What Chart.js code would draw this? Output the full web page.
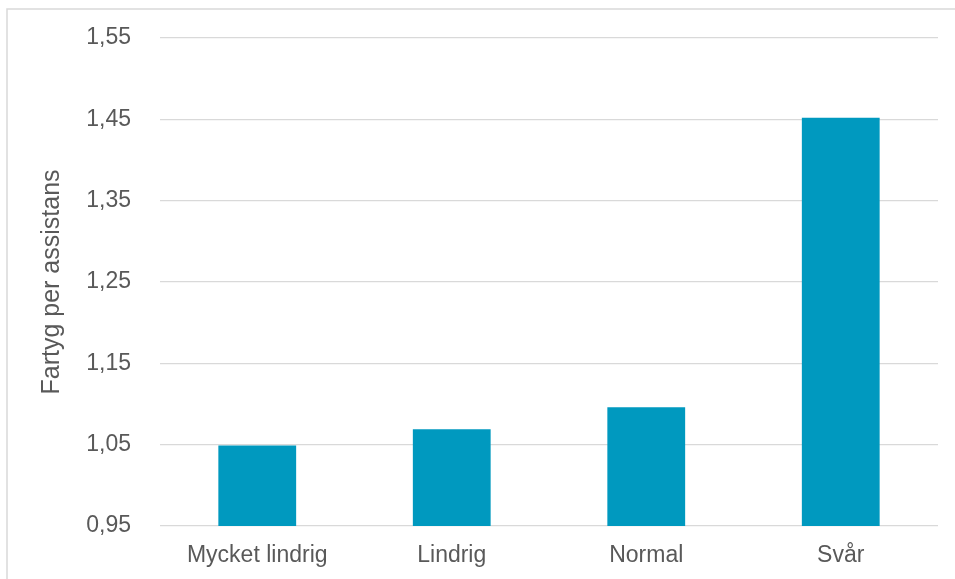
<!DOCTYPE html>
<html>
<head>
<meta charset="utf-8">
<script src="https://cdn.jsdelivr.net/npm/chart.js@4/dist/chart.umd.min.js"></script>
<style>
  html, body { margin: 0; padding: 0; background: #ffffff; }
  #wrap { width: 955px; height: 579px; }
</style>
</head>
<body>
<div id="wrap"><canvas id="ShipsChart" width="955" height="579"></canvas></div>
<script>
const categories = ["Mycket lindrig", "Lindrig", "Normal", "Svår"];
const shipsPerAssist = [1.049, 1.069, 1.096, 1.452];
const yMin = 0.95;
const yMax = 1.55;
const yStep = 0.1;
const yTitle = "Fartyg per assistans";

const textColor = "#595959";
const gridColor = "#d9d9d9";
const barColor = "#0099bf";
const fontFamily = "'Liberation Sans', Arial, sans-serif";

// thin frame round the whole chart
const framePlugin = {
    id: 'frame',
    beforeDraw(chart) {
        const c = chart.ctx;
        c.save();
        c.strokeStyle = gridColor;
        c.lineWidth = 1.5;
        c.strokeRect(7, 9, 1200, 1200);
        c.restore();
    }
};

function OnLoaded() {
    const ctx = document.getElementById('ShipsChart');

    new Chart(ctx, {
        type: 'bar',
        data: {
            labels: categories,
            datasets: [{
                label: yTitle,
                data: shipsPerAssist,
                backgroundColor: barColor,
                borderWidth: 0,
                barPercentage: 0.4,
                categoryPercentage: 1.0
            }]
        },
        options: {
            responsive: false,
            animation: false,
            layout: { padding: { left: 0, top: 38, right: 17, bottom: 0 } },
            plugins: {
                legend: { display: false },
                tooltip: { enabled: false }
            },
            scales: {
                x: {
                    grid: { display: false },
                    border: { display: false },
                    ticks: {
                        color: textColor,
                        padding: 8,
                        font: { family: fontFamily, size: 23 }
                    },
                    afterFit(scale) { scale.height = 53; }
                },
                y: {
                    min: yMin,
                    max: yMax,
                    border: { display: false },
                    grid: { color: gridColor, lineWidth: 1.3, drawTicks: false },
                    ticks: {
                        stepSize: yStep,
                        color: textColor,
                        padding: 29,
                        font: { family: fontFamily, size: 23 },
                        callback: v => v.toFixed(2).replace('.', ',')
                    },
                    title: {
                        display: true,
                        text: yTitle,
                        color: textColor,
                        padding: { top: 37, bottom: 0 },
                        font: { family: fontFamily, size: 25 }
                    },
                    afterFit(scale) {
                        scale.width = 160;
                        // tick padding would otherwise push the plot area down
                        scale.paddingTop = 0;
                        scale.paddingBottom = 0;
                    }
                }
            }
        },
        plugins: [framePlugin]
    });
}

OnLoaded();
</script>
</body>
</html>
